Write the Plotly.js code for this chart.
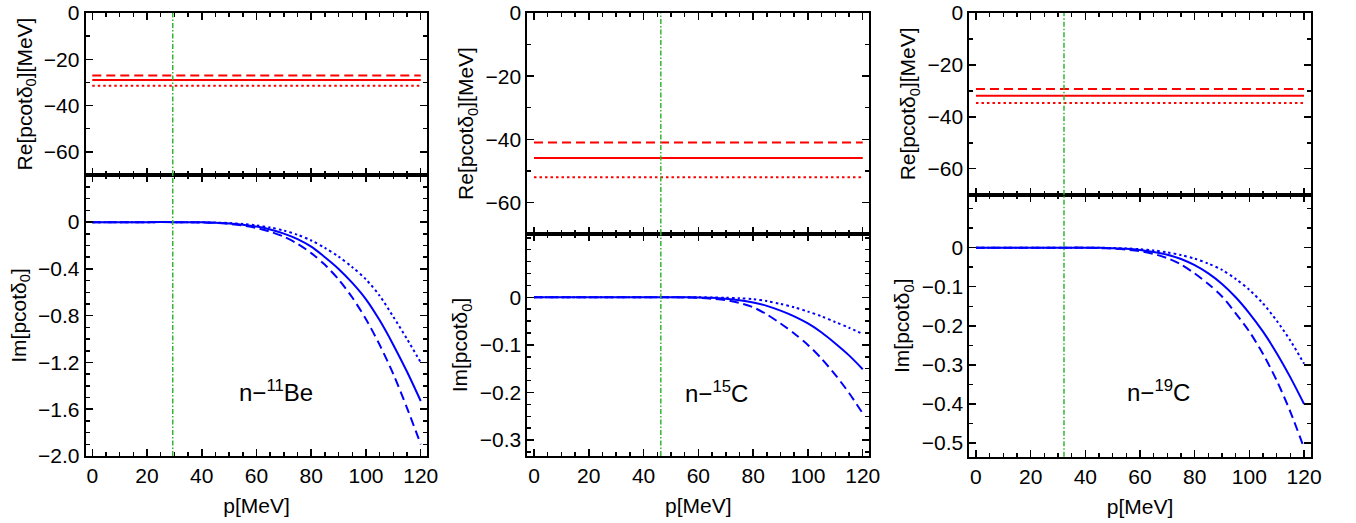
<!DOCTYPE html>
<html>
<head>
<meta charset="utf-8">
<script src="https://cdn.plot.ly/plotly-3.0.1.min.js"></script>
<style>html,body{margin:0;padding:0;background:#fff;}#chart{width:1356px;height:523px;}</style>
</head>
<body>
<div id="chart"></div>
<script>
// ---------- data ----------
const pGrid = [0,10,20,30,40,45,50,55,60,65,70,75,80,85,90,95,100,105,110,115,120];
const pRe = [0, 120];

// n-11Be
const re11Be_solid = -29.0, re11Be_dashed = -27.0, re11Be_dotted = -31.4;
const im11Be_solid  = [0,0,0,0,-0.002,-0.005,-0.011,-0.022,-0.038,-0.063,-0.098,-0.145,-0.21,-0.30,-0.40,-0.52,-0.66,-0.84,-1.05,-1.28,-1.53];
const im11Be_dashed = [0,0,0,0,-0.003,-0.007,-0.015,-0.029,-0.05,-0.082,-0.125,-0.185,-0.265,-0.365,-0.49,-0.645,-0.83,-1.05,-1.30,-1.59,-1.90];
const im11Be_dotted = [0,0,0,0,-0.0015,-0.0035,-0.008,-0.016,-0.028,-0.046,-0.072,-0.108,-0.157,-0.22,-0.295,-0.385,-0.49,-0.63,-0.81,-1.0,-1.20];

// n-15C
const re15C_solid = -45.9, re15C_dashed = -41.0, re15C_dotted = -52.0;
const im15C_solid  = [0,0,0,0,0,0,0,0,-0.0003,-0.001,-0.0028,-0.006,-0.011,-0.018,-0.028,-0.04,-0.055,-0.074,-0.097,-0.122,-0.151];
const im15C_dashed = [0,0,0,0,0,0,0,-0.0003,-0.001,-0.003,-0.006,-0.012,-0.021,-0.036,-0.055,-0.076,-0.10,-0.129,-0.163,-0.201,-0.244];
const im15C_dotted = [0,0,0,0,0,0,0,0,0,-0.0003,-0.001,-0.002,-0.004,-0.008,-0.014,-0.021,-0.03,-0.04,-0.052,-0.064,-0.077];

// n-19C
const re19C_solid = -31.9, re19C_dashed = -29.3, re19C_dotted = -34.7;
const im19C_solid  = [0,0,0,0,0,-0.0005,-0.0015,-0.003,-0.006,-0.011,-0.018,-0.029,-0.045,-0.066,-0.093,-0.127,-0.168,-0.215,-0.27,-0.332,-0.40];
const im19C_dashed = [0,0,0,0,0,-0.001,-0.0025,-0.005,-0.009,-0.016,-0.027,-0.043,-0.066,-0.093,-0.125,-0.168,-0.215,-0.272,-0.34,-0.42,-0.513];
const im19C_dotted = [0,0,0,0,0,0,-0.001,-0.002,-0.004,-0.007,-0.012,-0.019,-0.028,-0.041,-0.057,-0.08,-0.108,-0.143,-0.187,-0.238,-0.297];

// vertical threshold lines (p values)
const thresholds = [29.4, 46.3, 32.2];
const systemLabels = ['n\u2212<sup>11</sup>Be', 'n\u2212<sup>15</sup>C', 'n\u2212<sup>19</sup>C'];

// tick labels
const xTicks = [0,20,40,60,80,100,120];
const reTicks = [0,-20,-40,-60];
const reTickText = ['0','\u221220','\u221240','\u221260'];
const im11BeTicks = [0,-0.4,-0.8,-1.2,-1.6,-2.0];
const im11BeTickText = ['0','\u22120.4','\u22120.8','\u22121.2','\u22121.6','\u22122.0'];
const im15CTicks = [0,-0.1,-0.2,-0.3];
const im15CTickText = ['0','\u22120.1','\u22120.2','\u22120.3'];
const im19CTicks = [0,-0.1,-0.2,-0.3,-0.4,-0.5];
const im19CTickText = ['0','\u22120.1','\u22120.2','\u22120.3','\u22120.4','\u22120.5'];

// ---------- build ----------
const FONT = 'Liberation Sans, Arial, Helvetica, sans-serif';
const RED = '#ff0000', BLUE = '#0000ff', GREEN = '#33b533';
const DASH = '9px,5px', DOT = '2.5px,3px';

const panels = [
  {re:[re11Be_solid,re11Be_dashed,re11Be_dotted], im:[im11Be_solid,im11Be_dashed,im11Be_dotted],
   imTicks:im11BeTicks, imText:im11BeTickText, imRange:[-2.0,0.403], imMinor:0.1,
   xdom:[0.06320,0.31512], topDom:[0.66539,0.97514], botDom:[0.12811,0.66539],
   lab:{x:67.1,y:-1.444}},
  {re:[re15C_solid,re15C_dashed,re15C_dotted], im:[im15C_solid,im15C_dashed,im15C_dotted],
   imTicks:im15CTicks, imText:im15CTickText, imRange:[-0.3334,0.133], imMinor:0.025,
   xdom:[0.38894,0.64108], topDom:[0.55258,0.97514], botDom:[0.12811,0.55258],
   lab:{x:66.7,y:-0.198}},
  {re:[re19C_solid,re19C_dashed,re19C_dotted], im:[im19C_solid,im19C_dashed,im19C_dotted],
   imTicks:im19CTicks, imText:im19CTickText, imRange:[-0.535,0.1355], imMinor:0.05,
   xdom:[0.71490,0.96652], topDom:[0.62772,0.97514], botDom:[0.12677,0.62772],
   lab:{x:66.6,y:-0.368}}
];

const styles = [{dash:'solid'},{dash:DASH},{dash:DOT}];
const traces = [];
const layout = {
  width:1356, height:523, margin:{l:0,r:0,t:0,b:0},
  paper_bgcolor:'#fff', plot_bgcolor:'#fff', showlegend:false,
  font:{family:FONT, color:'#000'}, shapes:[], annotations:[]
};

function axBase(){
  return {showline:true, linewidth:2, linecolor:'#000', mirror:'ticks',
    ticks:'inside', ticklen:7, tickwidth:1.5, tickcolor:'#000',
    showgrid:false, zeroline:false, automargin:false,
    tickfont:{family:FONT, size:21, color:'#000'},
    minor:{ticks:'inside', ticklen:4, tickwidth:1.5, tickcolor:'#000', showgrid:false}};
}

panels.forEach((pn, i) => {
  const ti = 2*i+1, bi = 2*i+2;
  const xt = 'x'+ti, yt = 'y'+ti, xb = 'x'+bi, yb = 'y'+bi;
  pn.re.forEach((v, k) => {
    traces.push({type:'scatter', mode:'lines', x:pRe, y:pRe.map(()=>v), xaxis:xt, yaxis:yt,
      line:{color:RED, width:2, dash:styles[k].dash}, hoverinfo:'skip'});
  });
  pn.im.forEach((arr, k) => {
    traces.push({type:'scatter', mode:'lines', x:pGrid, y:arr, xaxis:xb, yaxis:yb,
      line:{color:BLUE, width:2, dash:styles[k].dash, shape:'spline', smoothing:0.8}, hoverinfo:'skip'});
  });

  const xTop = Object.assign(axBase(), {domain:pn.xdom, range:[-2.4,122.4], anchor:yt,
      tickvals:xTicks, showticklabels:false, minor:Object.assign(axBase().minor,{dtick:5, tick0:0})});
  const xBot = Object.assign(axBase(), {domain:pn.xdom, range:[-2.4,122.4], anchor:yb,
      tickvals:xTicks, ticktext:xTicks.map(String),
      minor:Object.assign(axBase().minor,{dtick:5, tick0:0}),
      title:{text:'p[MeV]', font:{family:FONT,size:21,color:'#000'}, standoff:12}});
  const yTop = Object.assign(axBase(), {domain:pn.topDom, range:[-70,0], anchor:xt,
      tickvals:reTicks, ticktext:reTickText,
      minor:Object.assign(axBase().minor,{dtick:10, tick0:0}),
      title:{text:'Re[pcot\u03b4<sub>0</sub>][MeV]', font:{family:FONT,size:21,color:'#000'}, standoff:6}});
  const yBot = Object.assign(axBase(), {domain:pn.botDom, range:pn.imRange, anchor:xb,
      tickvals:pn.imTicks, ticktext:pn.imText,
      minor:Object.assign(axBase().minor,{dtick:pn.imMinor, tick0:0}),
      title:{text:'Im[pcot\u03b4<sub>0</sub>]', font:{family:FONT,size:21,color:'#000'}, standoff:6}});
  layout['xaxis'+ti] = xTop; layout['xaxis'+bi] = xBot;
  layout['yaxis'+ti] = yTop; layout['yaxis'+bi] = yBot;

  [[xt,yt],[xb,yb]].forEach(([xa,ya]) => {
    layout.shapes.push({type:'line', xref:xa, yref:ya+' domain', x0:thresholds[i], x1:thresholds[i], y0:0, y1:1,
      line:{color:GREEN, width:1.5, dash:'5px,2px,1.5px,2px'}});
  });
  layout.annotations.push({xref:xb, yref:yb, x:pn.lab.x, y:pn.lab.y, text:systemLabels[i],
    showarrow:false, font:{family:FONT, size:24, color:'#000'}});
});

Plotly.newPlot('chart', traces, layout, {staticPlot:true, displayModeBar:false});
</script>
</body>
</html>
